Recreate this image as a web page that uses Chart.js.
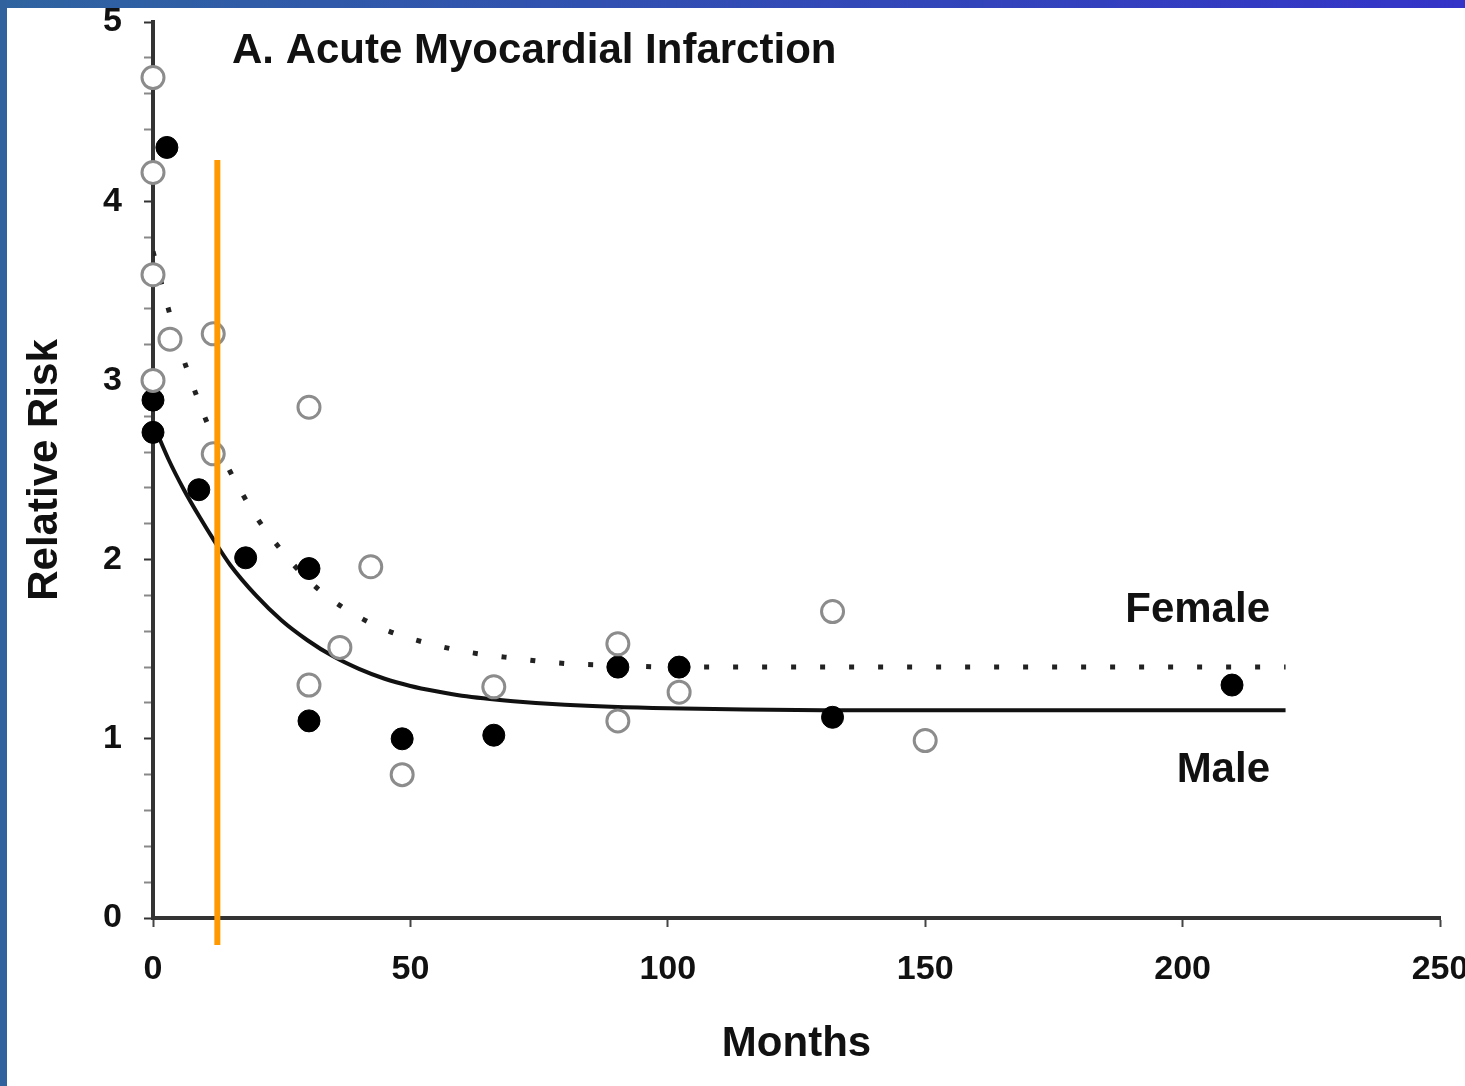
<!DOCTYPE html>
<html>
<head>
<meta charset="utf-8">
<script src="https://cdn.jsdelivr.net/npm/chart.js@4.4.0/dist/chart.umd.min.js"></script>
<style>
  html, body { margin: 0; padding: 0; background: #fff; overflow: hidden; }
  #wrap { position: relative; width: 1465px; height: 1086px; }
  #topbar { position: absolute; left: 0; top: 0; width: 1465px; height: 8px;
            background: linear-gradient(to right, #2f64a0, #3434c8); z-index: 2; }
  #leftbar { position: absolute; left: 0; top: 0; width: 7px; height: 1086px;
             background: #30629e; z-index: 2; }
  canvas { position: absolute; left: 0; top: 0; }
</style>
</head>
<body>
<div id="wrap">
  <div id="topbar"></div>
  <div id="leftbar"></div>
  <canvas id="amiChart" width="1465" height="1086"></canvas>
</div>
<script>
// Données (mois, risque relatif)
const femaleMonths = [0, 0, 0, 3.3, 11.7, 0, 11.7, 30.3, 42.3, 36.3, 30.3, 48.4, 66.2, 90.3, 90.3, 102.2, 132, 150];
const femaleRR = [4.69, 4.16, 3.59, 3.23, 3.26, 3.0, 2.59, 2.85, 1.96, 1.51, 1.30, 0.80, 1.29, 1.53, 1.10, 1.26, 1.71, 0.99];

const maleMonths = [2.7, 0, 0, 8.9, 18, 30.3, 30.3, 48.4, 66.2, 90.3, 102.2, 132, 209.6];
const maleRR = [4.30, 2.89, 2.71, 2.39, 2.01, 1.95, 1.10, 1.00, 1.02, 1.40, 1.40, 1.12, 1.30];

// Courbes ajustées, relevées point par point
const maleFitMonths = [0, 3, 6, 9, 12, 15, 20, 25, 30, 35, 40, 45, 50, 55, 60, 70, 80, 100, 130, 220];
const maleFitRR = [2.76, 2.56, 2.39, 2.24, 2.10, 1.97, 1.80, 1.66, 1.55, 1.46, 1.39, 1.335, 1.295, 1.265, 1.24, 1.21, 1.19, 1.17, 1.16, 1.16];

const femaleFitMonths = [0, 2.5, 5, 7.5, 10, 12.5, 15, 17.5, 20, 25, 30, 35, 40, 45, 50, 60, 70, 80, 90, 100, 150, 220];
const femaleFitRR = [3.72, 3.45, 3.20, 2.99, 2.80, 2.63, 2.49, 2.36, 2.24, 2.05, 1.89, 1.77, 1.68, 1.61, 1.56, 1.49, 1.45, 1.42, 1.41, 1.40, 1.40, 1.40];

// Repère orange (mois 12.5)
const markerMonths = [12.5, 12.5];
const markerRR = [4.23, -0.15];

const xTicks = [0, 50, 100, 150, 200, 250];
const yTicks = [0, 1, 2, 3, 4, 5];

const titleText = 'A. Acute Myocardial Infarction';
const FONT = '"Liberation Sans", Arial, Helvetica, sans-serif';

const toXY = (xs, ys) => xs.map((x, i) => ({ x: x, y: ys[i] }));
const isMajor = (v) => yTicks.includes(Math.round(v * 1000) / 1000);

const notesPlugin = {
  id: 'notes',
  afterDraw(chart) {
    const ctx = chart.ctx;
    ctx.save();
    ctx.fillStyle = '#111';
    ctx.font = 'bold 42px ' + FONT;
    ctx.textBaseline = 'middle';
    ctx.textAlign = 'left';
    ctx.fillText(titleText, 232, 51);
    ctx.textAlign = 'right';
    ctx.fillText('Female', 1270, 610);
    ctx.fillText('Male', 1270, 770);
    ctx.restore();
  },
};

new Chart(document.getElementById('amiChart'), {
  type: 'scatter',
  data: {
    datasets: [
      {
        type: 'line',
        label: 'Repère',
        data: toXY(markerMonths, markerRR),
        borderColor: '#ff9900',
        borderWidth: 6,
        pointRadius: 0,
        clip: false,
        order: 0,
      },
      {
        label: 'Female',
        data: toXY(femaleMonths, femaleRR),
        pointStyle: 'circle',
        pointRadius: 11,
        pointBorderWidth: 3,
        pointBorderColor: '#8c8c8c',
        pointBackgroundColor: '#ffffff',
        showLine: false,
        clip: false,
        order: 1,
      },
      {
        label: 'Male',
        data: toXY(maleMonths, maleRR),
        pointStyle: 'circle',
        pointRadius: 11,
        pointBorderWidth: 1,
        pointBorderColor: '#000',
        pointBackgroundColor: '#000',
        showLine: false,
        clip: false,
        order: 1,
      },
      {
        type: 'line',
        label: 'Female fit',
        data: toXY(femaleFitMonths, femaleFitRR),
        borderColor: '#222',
        borderWidth: 5,
        borderDash: [5, 24],
        cubicInterpolationMode: 'monotone',
        pointRadius: 0,
        order: 2,
      },
      {
        type: 'line',
        label: 'Male fit',
        data: toXY(maleFitMonths, maleFitRR),
        borderColor: '#111',
        borderWidth: 4,
        cubicInterpolationMode: 'monotone',
        pointRadius: 0,
        order: 2,
      },
    ],
  },
  options: {
    responsive: false,
    animation: false,
    layout: { padding: { top: 22, right: 25, left: 0, bottom: 0 } },
    plugins: {
      legend: { display: false },
      tooltip: { enabled: false },
    },
    scales: {
      x: {
        type: 'linear',
        min: 0,
        max: 250,
        afterFit(scale) {
          scale.height = 168;
          scale.paddingLeft = 0;
          scale.paddingRight = 0;
        },
        afterBuildTicks(scale) {
          scale.ticks = xTicks.map((v) => ({ value: v }));
        },
        border: { display: true, color: '#333', width: 4 },
        grid: { drawOnChartArea: false, tickLength: 9, tickColor: '#444', tickWidth: 2 },
        ticks: {
          color: '#111',
          padding: 22,
          maxRotation: 0,
          autoSkip: false,
          font: { family: FONT, size: 34, weight: 'bold' },
        },
        title: {
          display: true,
          text: 'Months',
          color: '#111',
          font: { family: FONT, size: 42, weight: 'bold' },
          padding: { top: 0, bottom: 16 },
        },
      },
      y: {
        min: 0,
        max: 5,
        afterFit(scale) {
          scale.width = 153;
          scale.paddingTop = 0;
          scale.paddingBottom = 0;
        },
        ticks: {
          stepSize: 0.2,
          autoSkip: false,
          color: '#111',
          padding: 22,
          font: { family: FONT, size: 34, weight: 'bold' },
          callback: (v) => (isMajor(v) ? String(Math.round(v)) : ''),
        },
        border: { display: true, color: '#333', width: 4 },
        grid: {
          drawOnChartArea: false,
          tickLength: 9,
          tickColor: (c) => (isMajor(c.tick.value) ? '#333' : '#888'),
          tickWidth: 2,
        },
        title: {
          display: true,
          text: 'Relative Risk',
          color: '#111',
          font: { family: FONT, size: 42, weight: 'bold' },
          padding: { top: 20, bottom: 0 },
        },
      },
    },
  },
  plugins: [notesPlugin],
});
</script>
</body>
</html>
